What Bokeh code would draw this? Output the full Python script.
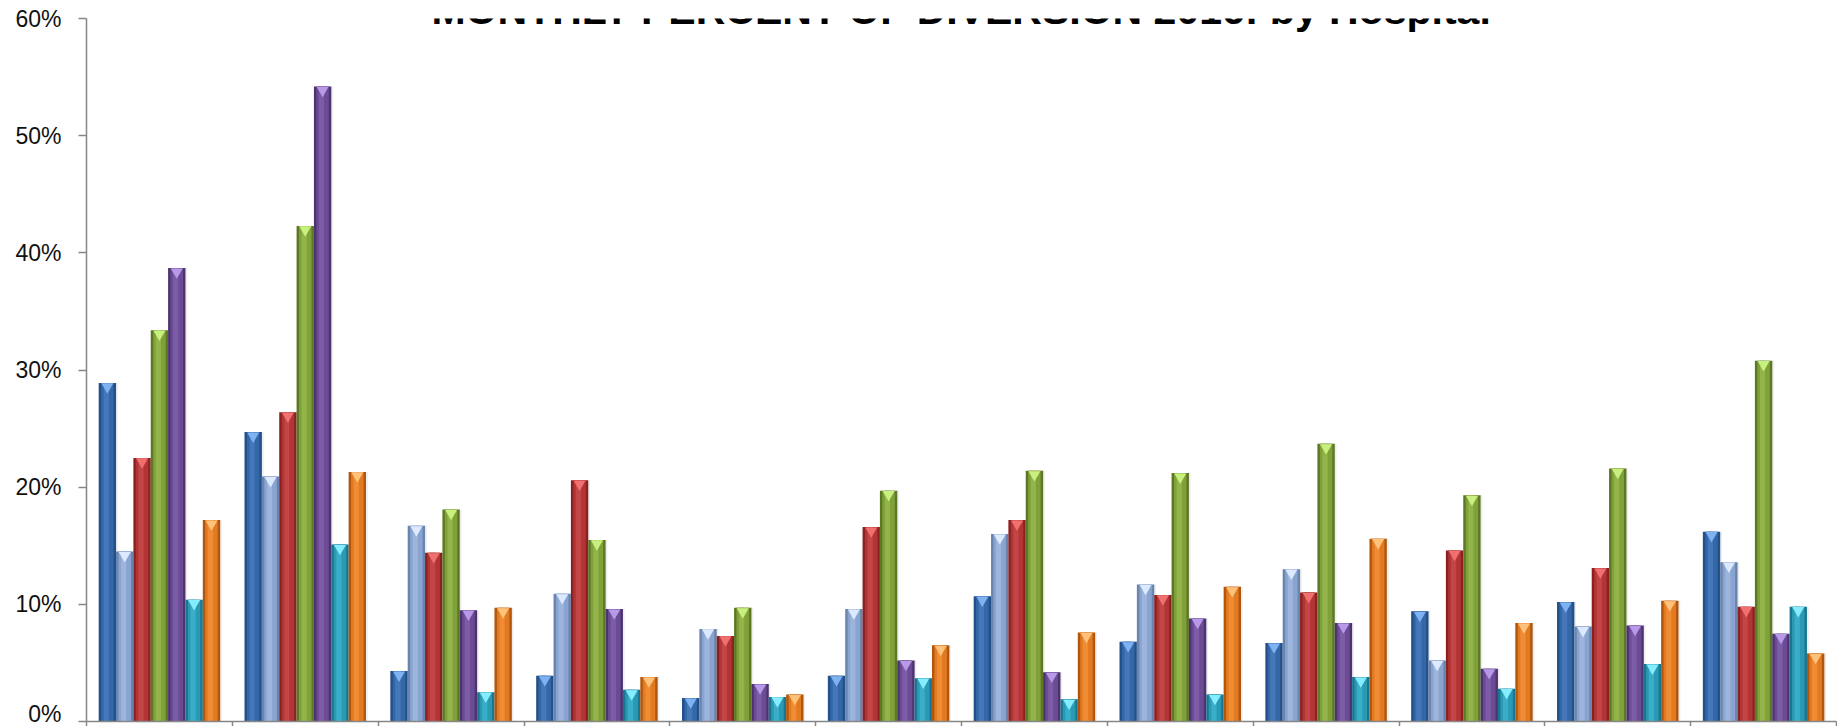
import numpy as np
from bokeh.plotting import figure
from bokeh.models import Range1d, FixedTicker, Label, PrintfTickFormatter
from bokeh.embed import file_html
from bokeh.resources import INLINE
from bokeh.core.properties import value

# ---- data (percent of diversion) ----
months = ["Jan", "Feb", "Mar", "Apr", "May", "Jun",
          "Jul", "Aug", "Sep", "Oct", "Nov", "Dec"]
hospitals = ["Hospital 1", "Hospital 2", "Hospital 3", "Hospital 4",
             "Hospital 5", "Hospital 6", "Hospital 7"]
h1 = [28.9, 24.7, 4.3, 3.9, 2.0, 3.9, 10.7, 6.8, 6.7, 9.4, 10.2, 16.2]
h2 = [14.5, 20.9, 16.7, 10.9, 7.9, 9.6, 16.0, 11.7, 13.0, 5.2, 8.1, 13.6]
h3 = [22.5, 26.4, 14.4, 20.6, 7.3, 16.6, 17.2, 10.8, 11.0, 14.6, 13.1, 9.8]
h4 = [33.4, 42.3, 18.1, 15.5, 9.7, 19.7, 21.4, 21.2, 23.7, 19.3, 21.6, 30.8]
h5 = [38.7, 54.2, 9.5, 9.6, 3.2, 5.2, 4.2, 8.8, 8.4, 4.5, 8.2, 7.5]
h6 = [10.4, 15.1, 2.5, 2.7, 2.1, 3.7, 1.9, 2.3, 3.8, 2.8, 4.9, 9.8]
h7 = [17.2, 21.3, 9.7, 3.8, 2.3, 6.5, 7.6, 11.5, 15.6, 8.4, 10.3, 5.8]
series = [h1, h2, h3, h4, h5, h6, h7]
y_ticks = [0, 10, 20, 30, 40, 50, 60]
title_text = "MONTHLY PERCENT OF DIVERSION 2016: by Hospital"

# ---- styles ----
edge_c = ["#22508a", "#6a84b0", "#8a2222", "#5c7824", "#4c3470", "#1a7690", "#b0560e"]
main_c = ["#3467a6", "#8aa4d0", "#b23434", "#80a03a", "#6b4c94", "#2a9ab4", "#e27a22"]
hl_c = ["#4578bb", "#9db5dc", "#c24646", "#92b44a", "#7c5ca6", "#3aaec8", "#f08c34"]
tri_c = ["#7fb2f2", "#dce9ff", "#f07070", "#c8f07e", "#b898e8", "#86ecff", "#ffc27a"]

W, H = 1837, 726
p = figure(width=W, height=H, output_backend="svg", toolbar_location=None,
           x_range=Range1d(0, 12), y_range=Range1d(0, 60),
           min_border_left=86, min_border_right=1, min_border_top=18,
           min_border_bottom=5)
p.outline_line_color = None
p.grid.visible = False
p.background_fill_color = "white"
p.border_fill_color = "white"

n = len(months)
idx = np.arange(n)
bw = 0.119
for j, vals in enumerate(series):
    v = np.array(vals, dtype=float)
    xc = idx + 0.5 + (j - 3) * bw
    p.vbar(x=xc + 0.012, top=v, bottom=0, width=bw, fill_color="#bbbbbb",
           fill_alpha=0.25, line_color=None)
    p.vbar(x=xc, top=v, bottom=0, width=bw, fill_color=edge_c[j], line_color=None)
    p.vbar(x=xc, top=v, bottom=0, width=bw * 0.72, fill_color=main_c[j], line_color=None)
    p.vbar(x=xc - bw * 0.06, top=v, bottom=0, width=bw * 0.3, fill_color=hl_c[j],
           line_color=None)
    p.scatter(x=xc, y=v - 0.33, marker="inverted_triangle", size=12,
              fill_color=tri_c[j], line_color=None)

# y axis
ya = p.yaxis[0]
ya.ticker = FixedTicker(ticks=y_ticks)
ya.formatter = PrintfTickFormatter(format="%d%%")
ya.axis_line_color = "#868686"
ya.axis_line_width = 1.5
ya.major_tick_line_color = "#868686"
ya.major_tick_line_width = 1.5
ya.major_tick_out = 8
ya.major_tick_in = 0
ya.minor_tick_line_color = None
ya.major_label_standoff = 17
ya.major_label_text_font = "Liberation Sans"
ya.major_label_text_font_size = "23px"
ya.major_label_text_color = "#111111"

# x axis (month boundaries, labels fall outside the view)
xa = p.xaxis[0]
xa.ticker = FixedTicker(ticks=list(range(n + 1)))
xa.major_label_overrides = {i: "" for i in range(n + 1)}
xa.major_label_text_font_size = "0px"
xa.major_label_standoff = 0
xa.axis_label_standoff = 0
xa.axis_line_color = "#868686"
xa.axis_line_width = 1.5
xa.major_tick_line_color = "#868686"
xa.major_tick_line_width = 1.5
xa.major_tick_out = 5
xa.major_tick_in = 0
xa.minor_tick_line_color = None

title = Label(x=n / 2, y=60, y_offset=9, text=title_text,
              text_font="Liberation Sans", text_font_style="bold",
              text_font_size="41px", text_align="center",
              text_baseline="alphabetic", text_color="#000000")
p.add_layout(title)

open("out.html", "w").write(file_html(p, INLINE))
